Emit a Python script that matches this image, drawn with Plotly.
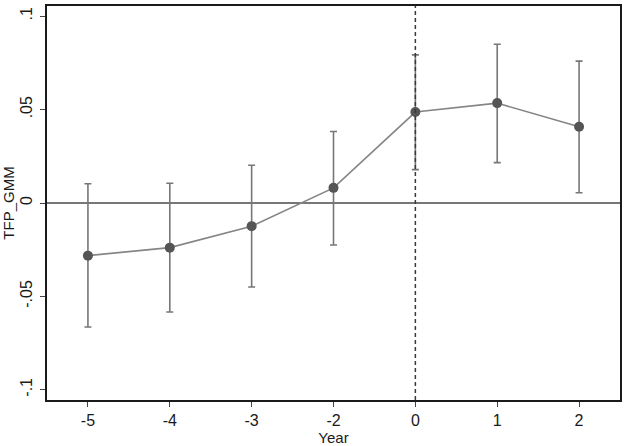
import plotly.graph_objects as go

years = ["-5", "-4", "-3", "-2", "0", "1", "2"]
coef = [-0.0282, -0.0239, -0.0124, 0.0081, 0.0487, 0.0535, 0.0408]
ci_upper = [0.0103, 0.0106, 0.0202, 0.0383, 0.0793, 0.0850, 0.0760]
ci_lower = [-0.0664, -0.0584, -0.0450, -0.0225, 0.0179, 0.0216, 0.0055]
y_ticks = [-0.1, -0.05, 0, 0.05, 0.1]
y_ticklabels = ["-.1", "-.05", "0", ".05", ".1"]

err_plus = [u - c for u, c in zip(ci_upper, coef)]
err_minus = [c - l for c, l in zip(coef, ci_lower)]

font = "Liberation Sans, Arial, sans-serif"

fig = go.Figure()
fig.add_hline(y=0, line=dict(color="#4a4a4a", width=1.5), layer="below")
fig.add_shape(type="line", xref="x", yref="paper", x0=years.index("0"), x1=years.index("0"),
              y0=0, y1=1, line=dict(color="#3a3a3a", width=1.5, dash="4px,3px"), layer="above")
fig.add_trace(go.Scatter(
    x=years, y=coef, mode="lines+markers",
    line=dict(color="#858585", width=1.6),
    marker=dict(color="#555555", size=10),
    error_y=dict(type="data", symmetric=False, array=err_plus, arrayminus=err_minus,
                 color="#777777", thickness=1.6, width=3.5),
    showlegend=False,
))

fig.update_layout(
    width=626, height=446,
    margin=dict(l=47, r=4, t=4, b=46),
    paper_bgcolor="white", plot_bgcolor="white",
    font=dict(family=font, size=15, color="#1a1a1a"),
    xaxis=dict(type="category", range=[-0.5, 6.5], showgrid=False, zeroline=False,
               showline=True, linecolor="#1a1a1a", linewidth=1.5, mirror=True,
               ticks="outside", ticklen=5, tickcolor="#444444",
               tickfont=dict(size=16),
               title=dict(text="Year", standoff=0, font=dict(size=15))),
    yaxis=dict(range=[-0.1055, 0.1055], tickvals=y_ticks, ticktext=y_ticklabels,
               tickangle=-90, showgrid=False, zeroline=False,
               showline=True, linecolor="#1a1a1a", linewidth=1.5, mirror=True,
               ticks="outside", ticklen=5, tickcolor="#444444", ticklabelstandoff=2,
               tickfont=dict(size=16),
               title=dict(text="TFP_GMM", standoff=0, font=dict(size=15))),
)

fig.write_html("out.html")
